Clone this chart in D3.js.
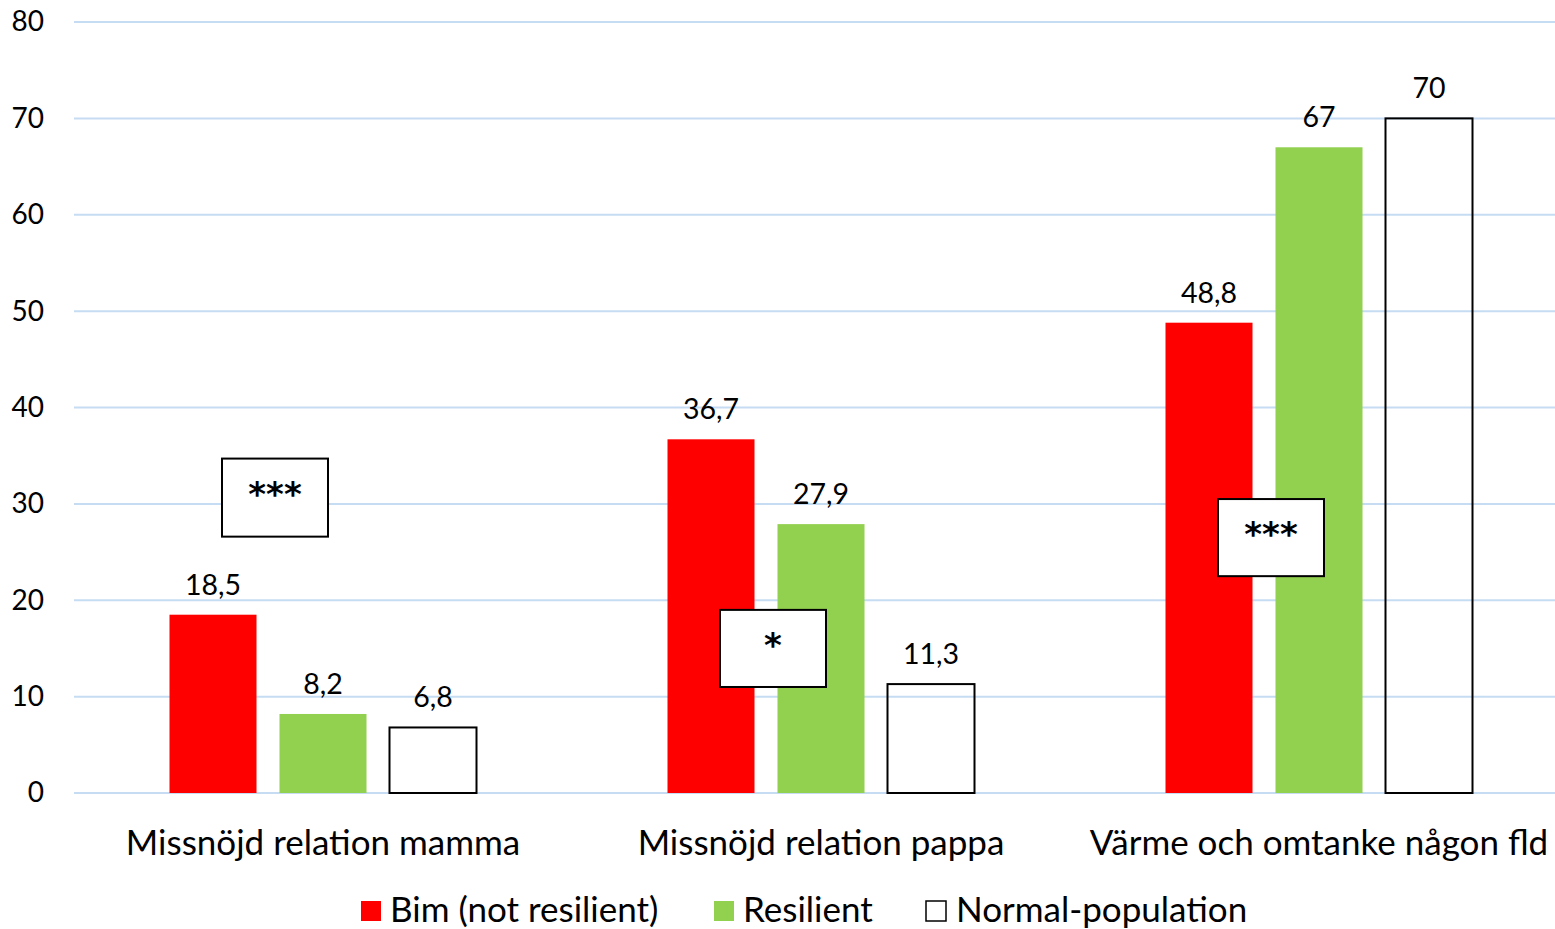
<!DOCTYPE html>
<html>
<head>
<meta charset="utf-8">
<script src="https://cdn.jsdelivr.net/npm/d3@7"></script>
<style>
  html, body { margin: 0; padding: 0; background: #fff; }
  text { font-family: Lato, "Open Sans", sans-serif; fill: #000; }
</style>
</head>
<body>
<div class="container"></div>
<script>
// chart data
const categories = ["Missnöjd relation mamma", "Missnöjd relation pappa", "Värme och omtanke någon fld"];
const seriesNames = ["Bim (not resilient)", "Resilient", "Normal-population"];
const bimValues = [18.5, 36.7, 48.8];
const resilientValues = [8.2, 27.9, 67];
const normalValues = [6.8, 11.3, 70];
const yTicks = [0, 10, 20, 30, 40, 50, 60, 70, 80];
// significance boxes: category, marker, top and bottom in data units
const sigCategories = ["Missnöjd relation mamma", "Missnöjd relation pappa", "Värme och omtanke någon fld"];
const sigMarks = ["***", "*", "***"];
const sigTop = [34.7, 19.0, 30.5];
const sigBottom = [26.6, 11.0, 22.5];

const colors = ["#ff0000", "#92d050", "none"];

const width = 1555, height = 929;
const mLeft = 74, mRight = 1568, mTop = 22, mBottom = 793;

const svg = d3.select('.container')
  .append('svg')
  .attr('width', width)
  .attr('height', height);

const x0 = d3.scaleBand().domain(categories).range([mLeft, mRight]);
const bw = x0.bandwidth();
const x1 = d3.scaleBand().domain(seriesNames)
  .range([bw / 2 - 153.5, bw / 2 + 153.5])
  .paddingInner(23 / 110);
const y = d3.scaleLinear().domain([0, 80]).range([mBottom, mTop]);

const fmt = d3.formatLocale({decimal: ",", thousands: " ", grouping: [3], currency: ["", ""]}).format("~g");

// gridlines
svg.append('g')
  .attr('stroke', '#c6dcf3')
  .attr('stroke-width', 2)
  .selectAll('line')
  .data(yTicks)
  .join('line')
  .attr('x1', mLeft)
  .attr('x2', width)
  .attr('y1', d => y(d))
  .attr('y2', d => y(d));

// y axis labels
const yAxis = svg.append('g')
  .attr('transform', `translate(${mLeft},0)`)
  .call(d3.axisLeft(y).tickValues(yTicks).tickSize(0).tickPadding(30));
yAxis.select('.domain').remove();
yAxis.selectAll('text')
  .attr('font-size', 28)
  .attr('fill', '#000');

const rows = categories.map((c, i) => ({
  cat: c,
  vals: [bimValues[i], resilientValues[i], normalValues[i]]
}));

const groups = svg.append('g')
  .selectAll('g')
  .data(rows)
  .join('g')
  .attr('transform', d => `translate(${x0(d.cat)},0)`);

groups.selectAll('rect')
  .data(d => d.vals.map((v, j) => ({name: seriesNames[j], v, j})))
  .join('rect')
  .attr('x', d => x1(d.name))
  .attr('width', x1.bandwidth())
  .attr('y', d => y(d.v))
  .attr('height', d => y(0) - y(d.v))
  .attr('fill', d => colors[d.j])
  .attr('stroke', d => d.j === 2 ? '#000' : 'none')
  .attr('stroke-width', 2);

groups.selectAll('text.val')
  .data(d => d.vals.map((v, j) => ({name: seriesNames[j], v, j})))
  .join('text')
  .attr('class', 'val')
  .attr('x', d => x1(d.name) + x1.bandwidth() / 2)
  .attr('y', d => y(d.v) - 20)
  .attr('text-anchor', 'middle')
  .attr('font-size', 28.5)
  .text(d => fmt(d.v));

// significance boxes
const sig = sigCategories.map((c, i) => ({cat: c, mark: sigMarks[i], t: sigTop[i], b: sigBottom[i]}));
const sg = svg.append('g')
  .selectAll('g')
  .data(sig)
  .join('g')
  .attr('transform', d => `translate(${x0(d.cat) + bw / 2 - 48},0)`);
sg.append('rect')
  .attr('x', -53)
  .attr('width', 106)
  .attr('y', d => y(d.t))
  .attr('height', d => y(d.b) - y(d.t))
  .attr('fill', '#fff')
  .attr('stroke', '#000')
  .attr('stroke-width', 2);
sg.append('text')
  .attr('y', d => y(d.t) + 47)
  .attr('text-anchor', 'middle')
  .attr('font-size', 34)
  .style('font-family', '"DejaVu Sans", sans-serif')
  .attr('font-weight', 'bold')
  .text(d => d.mark);

// category labels
svg.append('g')
  .selectAll('text')
  .data(categories)
  .join('text')
  .attr('x', d => x0(d) + bw / 2)
  .attr('y', 855)
  .attr('text-anchor', 'middle')
  .attr('font-size', 35)
  .text(d => d);

// legend
const legendX = [361, 714, 926];
const lg = svg.append('g')
  .selectAll('g')
  .data(seriesNames)
  .join('g')
  .attr('transform', (d, i) => `translate(${legendX[i]},901)`);
lg.append('rect')
  .attr('width', 20)
  .attr('height', 20)
  .attr('x', 0)
  .attr('y', 0)
  .attr('fill', (d, i) => colors[i] === 'none' ? '#fff' : colors[i])
  .attr('stroke', (d, i) => i === 2 ? '#000' : 'none')
  .attr('stroke-width', 1.5);
lg.append('text')
  .attr('x', (d, i) => i === 2 ? 30 : 29)
  .attr('y', 21)
  .attr('font-size', 35)
  .text(d => d);
</script>
</body>
</html>
